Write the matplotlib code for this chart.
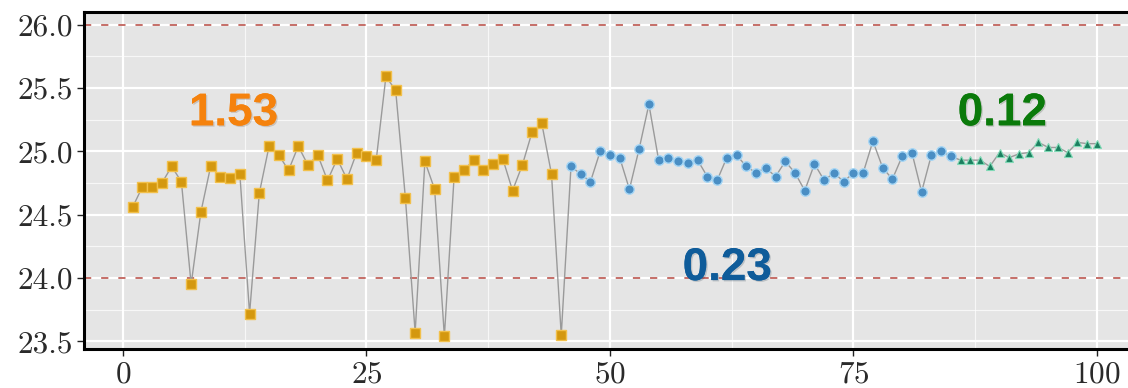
import matplotlib
matplotlib.use("Agg")
import matplotlib.pyplot as plt
import matplotlib.patheffects as pe
from matplotlib.ticker import MultipleLocator

# series values
x_orange = list(range(1, 46))
y_orange = [24.56, 24.72, 24.72, 24.75, 24.88, 24.76, 23.95, 24.52, 24.88, 24.80,
            24.79, 24.82, 23.72, 24.67, 25.04, 24.97, 24.85, 25.04, 24.89, 24.97,
            24.77, 24.94, 24.78, 24.99, 24.96, 24.93, 25.59, 25.48, 24.63, 23.57,
            24.92, 24.70, 23.54, 24.80, 24.85, 24.93, 24.85, 24.90, 24.94, 24.69,
            24.89, 25.15, 25.22, 24.82, 23.55]
x_blue = list(range(46, 86))
y_blue = [24.88, 24.82, 24.76, 25.00, 24.97, 24.95, 24.70, 25.02, 25.37, 24.93,
          24.95, 24.92, 24.91, 24.93, 24.80, 24.77, 24.95, 24.97, 24.88, 24.83,
          24.87, 24.80, 24.92, 24.83, 24.69, 24.90, 24.77, 24.83, 24.76, 24.83,
          24.83, 25.08, 24.87, 24.78, 24.96, 24.99, 24.68, 24.97, 25.00, 24.96]
x_green = list(range(86, 101))
y_green = [24.93, 24.93, 24.93, 24.88, 24.99, 24.95, 24.98, 24.99, 25.07, 25.03,
           25.03, 24.99, 25.07, 25.06, 25.06]

limit_lines = [26.0, 24.0]
labels = ["1.53", "0.23", "0.12"]
label_x = [11.35, 62.06, 90.3]
label_y = [25.205, 23.984, 25.205]
label_colors = ["#F5820D", "#0F5C9A", "#0A7A0A"]

plt.rcParams["font.family"] = "serif"
plt.rcParams["font.serif"] = ["cmr10", "DejaVu Serif"]
plt.rcParams["axes.formatter.use_mathtext"] = True

fig = plt.figure(figsize=(11.28, 3.88), dpi=100)
ax = fig.add_axes([0.0749, 0.1005, 0.9403, 0.869])
ax.set_facecolor("#e5e5e5")

x_all = x_orange + x_blue + x_green
y_all = y_orange + y_blue + y_green
ax.plot(x_all, y_all, color="#9a9a9a", linewidth=1.0, zorder=3)

ax.plot(x_orange, y_orange, linestyle="none", marker="s", markersize=6.8,
        markerfacecolor="#D4980F", markeredgecolor="#F2C04A", markeredgewidth=1.0, zorder=4)
ax.plot(x_blue, y_blue, linestyle="none", marker="o", markersize=6.8,
        markerfacecolor="#4A8EC4", markeredgecolor="#A5D6F5", markeredgewidth=1.0, zorder=4)
ax.plot(x_green, y_green, linestyle="none", marker="^", markersize=6,
        markerfacecolor="#1B7F5F", markeredgecolor="#7FD9B5", markeredgewidth=0.8, zorder=4)

for yl in limit_lines:
    ax.axhline(yl, color="#b5473f", linewidth=1.3, alpha=0.85,
               linestyle=(0, (4.0, 5.5)), zorder=2)

for txt, tx, ty, c in zip(labels, label_x, label_y, label_colors):
    ax.text(tx, ty, txt, color=c, fontsize=33, fontweight="bold",
            family=["Liberation Sans", "DejaVu Sans"], ha="center", va="baseline", zorder=5,
            path_effects=[pe.withSimplePatchShadow(offset=(1.0, -1.0), alpha=0.18),
                          pe.Normal()])

ax.set_xlim(-3.95, 104.95)
ax.set_ylim(23.44, 26.10)
ax.xaxis.set_major_locator(MultipleLocator(25))
ax.xaxis.set_minor_locator(MultipleLocator(12.5))
ax.yaxis.set_major_locator(MultipleLocator(0.5))
ax.yaxis.set_minor_locator(MultipleLocator(0.25))
ax.yaxis.set_major_formatter(matplotlib.ticker.FormatStrFormatter("%.1f"))

ax.grid(which="major", color="white", linewidth=1.6, zorder=0)
ax.grid(which="minor", color="white", linewidth=0.8, alpha=0.7, zorder=0)
ax.set_axisbelow(True)

for side in ["left", "bottom", "top", "right"]:
    ax.spines[side].set_linewidth(2.2)
    ax.spines[side].set_color("black")

ax.tick_params(which="major", length=5, width=1.0, color="#222222",
               labelsize=22.5, labelcolor="#2a2a2a", pad=3)
ax.tick_params(which="minor", length=0)

fig.savefig("out.png", dpi=100)
